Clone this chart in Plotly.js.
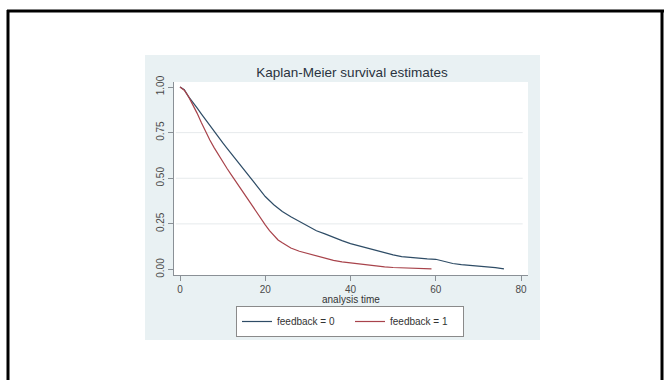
<!DOCTYPE html>
<html>
<head>
<meta charset="utf-8">
<script src="https://cdn.plot.ly/plotly-3.0.1.min.js"></script>
<style>html,body{margin:0;padding:0;background:#fff;}#chart{width:671px;height:380px;}</style>
</head>
<body>
<div id="chart"></div>
<script>
// ---- data ----
const chartTitle = "Kaplan-Meier survival estimates";
const xAxisTitle = "analysis time";
const seriesNames = ["feedback = 0", "feedback = 1"];

const time0 = [0,1,2,3,4,5,6,7,8,9,10,11,12,13,14,15,16,17,18,19,20,22,24,26,28,30,32,34,36,38,40,42,44,46,48,50,52,54,56,58,60,61,62,64,66,68,70,72,74,76];
const surv0 = [1.0,0.985,0.947,0.918,0.886,0.853,0.82,0.788,0.755,0.725,0.695,0.665,0.635,0.605,0.575,0.545,0.515,0.487,0.455,0.428,0.40,0.355,0.318,0.289,0.262,0.236,0.212,0.195,0.175,0.158,0.142,0.13,0.118,0.102,0.09,0.08,0.071,0.066,0.062,0.058,0.056,0.05,0.042,0.033,0.027,0.023,0.02,0.015,0.01,0.003];

const time1 = [0,1,2,3,4,5,6,7,8,9,10,11,12,13,14,15,16,17,18,19,20,21,22,23,24,25,26,28,30,32,34,36,38,40,42,44,46,48,50,52,54,56,58,59];
const surv1 = [1.0,0.982,0.947,0.905,0.857,0.805,0.755,0.71,0.668,0.628,0.59,0.555,0.52,0.485,0.452,0.418,0.384,0.35,0.315,0.28,0.245,0.213,0.185,0.162,0.146,0.131,0.118,0.1,0.088,0.073,0.06,0.05,0.042,0.036,0.03,0.024,0.018,0.014,0.011,0.009,0.008,0.007,0.005,0.003];

const xTicks = [0,20,40,60,80];
const yTicks = [0,0.25,0.5,0.75,1];
const yGrid = [0.25,0.5,0.75];

// ---- layout helpers (pixel -> paper) ----
const W = 671, H = 380;
const PL = 174, PR = 528, PT = 82, PB = 275;
const px = v => (v - PL) / (PR - PL);
const py = v => (PB - v) / (PB - PT);

const colors = ["#2e4c66", "#a8434b"];

const traces = [
  {x: time0, y: surv0, name: seriesNames[0], type: "scatter", mode: "lines",
   line: {color: colors[0], width: 1.2}},
  {x: time1, y: surv1, name: seriesNames[1], type: "scatter", mode: "lines",
   line: {color: colors[1], width: 1.2}}
];

const shapes = [
  // graph region panel
  {type: "rect", xref: "paper", yref: "paper", x0: px(145), x1: px(540), y0: py(340), y1: py(55),
   fillcolor: "#e9f1f3", line: {width: 0}, layer: "below"},
  // plot region
  {type: "rect", xref: "paper", yref: "paper", x0: 0, x1: 1, y0: 0, y1: 1,
   fillcolor: "#ffffff", line: {width: 0}, layer: "below"},
  // outer frame
  {type: "line", xref: "paper", yref: "paper", x0: px(8), x1: px(8), y0: py(10), y1: py(385),
   line: {color: "#000", width: 3}, layer: "above"},
  {type: "line", xref: "paper", yref: "paper", x0: px(7), x1: px(664), y0: py(11), y1: py(11),
   line: {color: "#000", width: 3}, layer: "above"},
  {type: "line", xref: "paper", yref: "paper", x0: px(662), x1: px(662), y0: py(10), y1: py(385),
   line: {color: "#000", width: 3}, layer: "above"}
];
yGrid.forEach(g => shapes.push({type: "line", xref: "paper", yref: "y", x0: 0.005, x1: 0.985, y0: g, y1: g,
  line: {color: "#e6eaec", width: 1}, layer: "below"}));

const font = "Liberation Sans, Arial, sans-serif";

const layout = {
  width: W, height: H,
  margin: {l: PL, r: W - PR, t: PT, b: H - PB, pad: 0},
  paper_bgcolor: "#ffffff",
  plot_bgcolor: "rgba(0,0,0,0)",
  font: {family: font, color: "#444"},
  title: {text: chartTitle, x: 352 / W, xanchor: "center", y: 1 - 72 / H, yanchor: "middle",
          font: {family: font, size: 13.5, color: "#2a3340"}},
  xaxis: {range: [(PL - 180) / 4.2625, (PR - 180) / 4.2625], tickvals: xTicks,
          showgrid: false, zeroline: false, showline: true, linecolor: "#8a9096", linewidth: 1,
          ticks: "outside", ticklen: 5, tickcolor: "#8a9096", tickfont: {size: 10, color: "#4a4a4a"}},
  yaxis: {range: [(269.5 - PB) / 182.5, (269.5 - PT) / 182.5], tickvals: yTicks, tickformat: ".2f",
          tickangle: -90, showgrid: false, zeroline: false, showline: true, linecolor: "#8a9096", linewidth: 1,
          ticks: "outside", ticklen: 5, tickcolor: "#8a9096", tickfont: {size: 10, color: "#4a4a4a"}},
  showlegend: true,
  legend: {orientation: "h", x: px(236), xanchor: "left", y: py(306), yanchor: "top",
           bgcolor: "#ffffff", bordercolor: "#8a8a8a", borderwidth: 1,
           font: {size: 10, color: "#333"}, itemwidth: 30, entrywidth: 68, entrywidthmode: "pixels"},
  annotations: [{text: xAxisTitle, xref: "paper", yref: "paper", x: px(351), y: py(299),
                 xanchor: "center", yanchor: "middle", showarrow: false,
                 font: {family: font, size: 10, color: "#333"}}],
  shapes: shapes
};

Plotly.newPlot("chart", traces, layout, {staticPlot: true, displayModeBar: false});
</script>
</body>
</html>
